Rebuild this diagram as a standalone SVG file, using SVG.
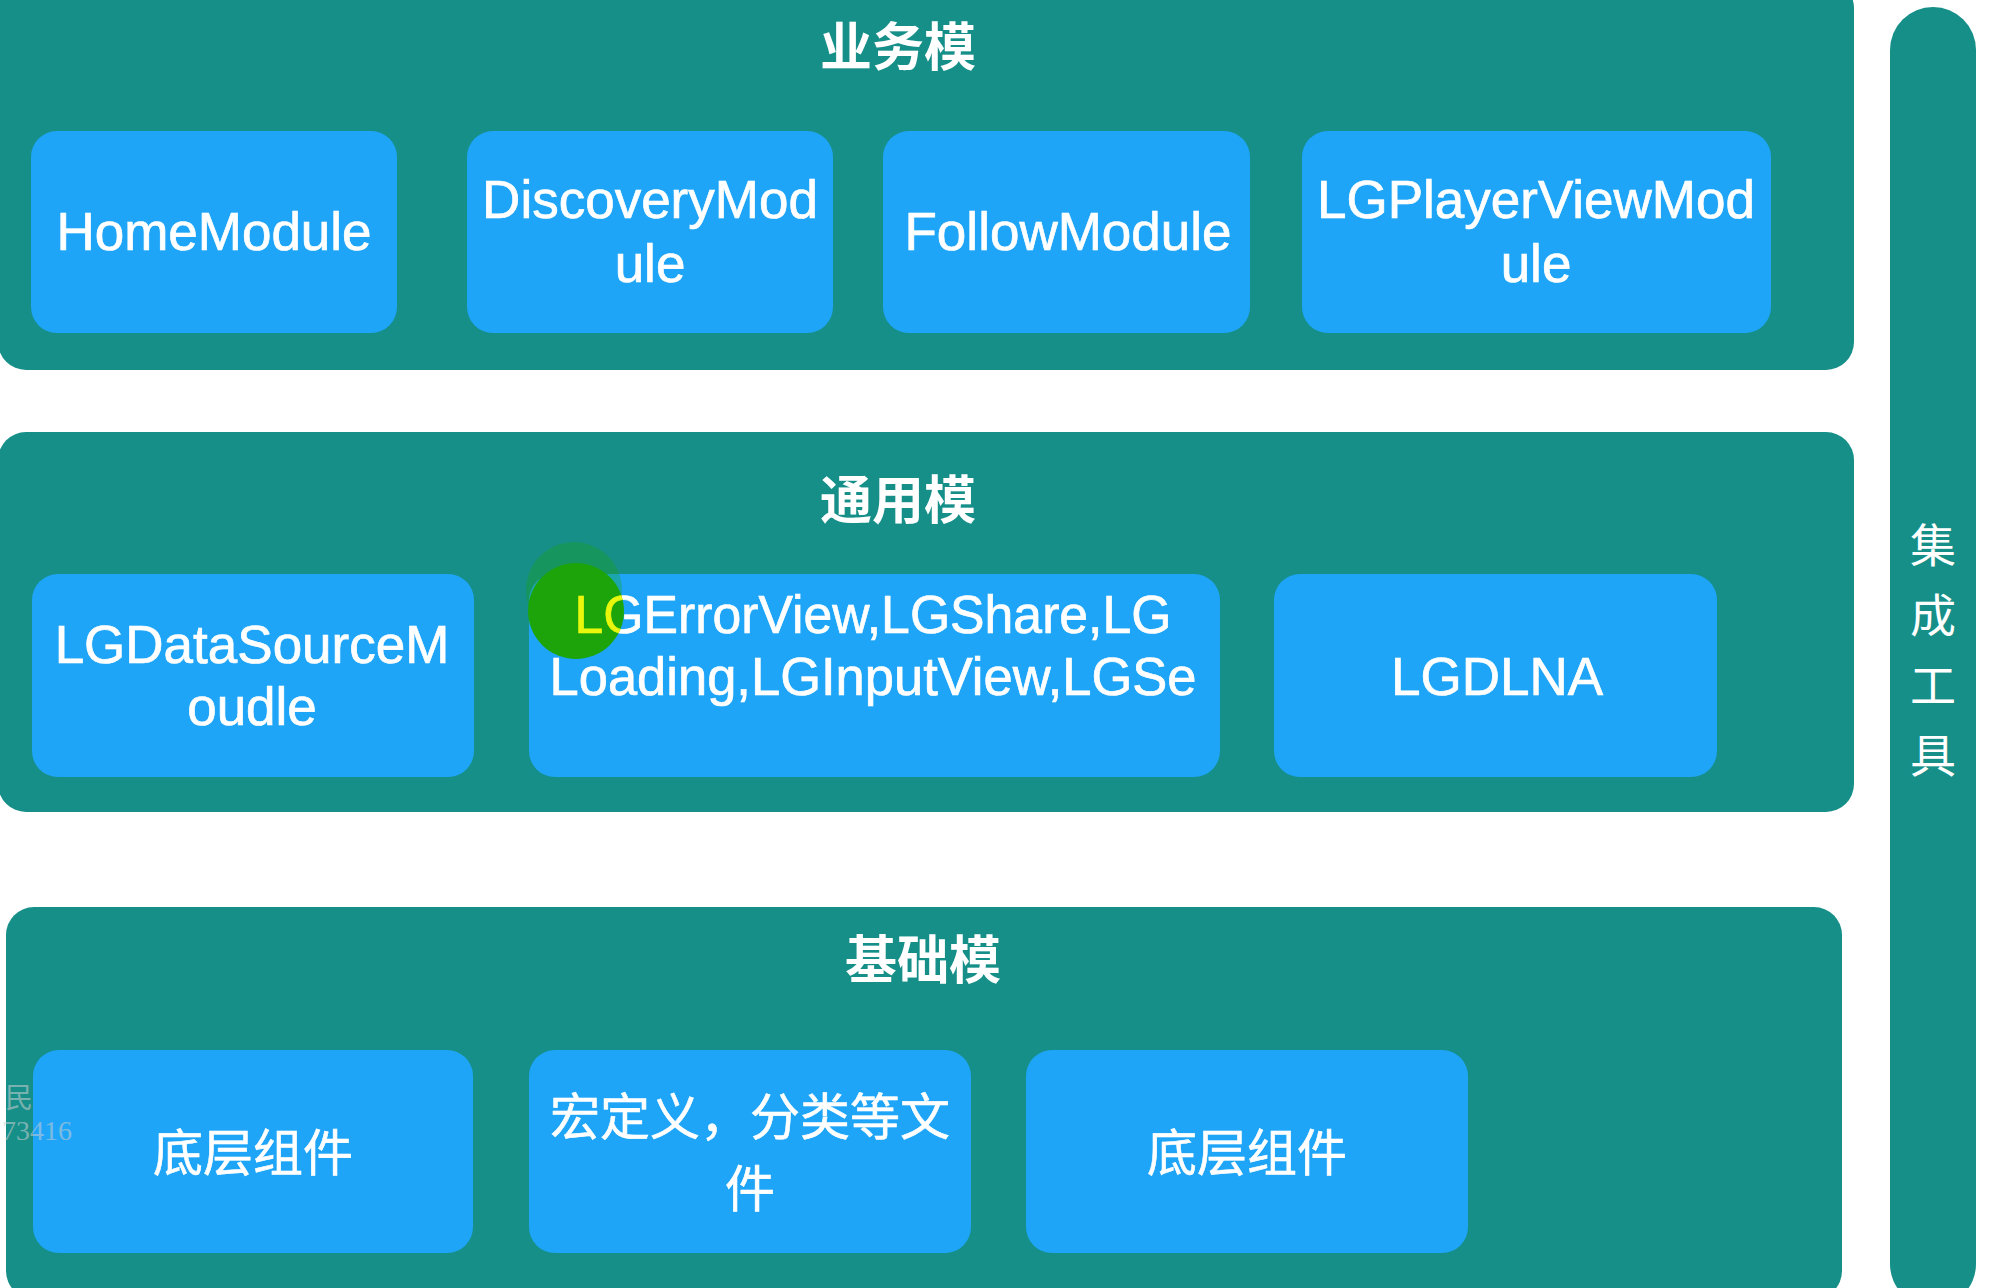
<svg xmlns="http://www.w3.org/2000/svg" width="1998" height="1288" viewBox="0 0 1998 1288">
  <defs>
    <style>
      .panel { fill: #168f89; }
      .box { fill: #1ea5f8; }
      .t { fill: #ffffff; stroke: #ffffff; stroke-width: 0.7px; font-family: "Liberation Sans", Arial, sans-serif; font-size: 53px; text-anchor: middle; }
      .cjk { fill: #ffffff; font-family: "Noto Sans CJK SC", "Noto Sans", sans-serif; text-anchor: middle; }
      .title { font-size: 52px; font-weight: bold; }
      .lbl { font-size: 50px; stroke: #ffffff; stroke-width: 0.6px; }
      .side { font-size: 46px; }
      .wm { fill: #c9cdd0; opacity: 0.55; font-family: "Liberation Serif", "Noto Sans CJK SC", serif; font-size: 28px; }
    </style>
    <clipPath id="spot">
      <circle cx="576" cy="611" r="48"/>
    </clipPath>
  </defs>
  <rect x="0" y="0" width="1998" height="1288" fill="#ffffff"/>

  <g id="integration-tools">
    <rect class="panel" x="1890" y="7" width="86" height="1300" rx="43"/>
    <text class="cjk side" x="1933" y="562">集</text>
    <text class="cjk side" x="1933" y="632">成</text>
    <text class="cjk side" x="1933" y="702">工</text>
    <text class="cjk side" x="1933" y="772">具</text>
  </g>

  <g id="business-layer">
    <rect class="panel" x="-2" y="-20" width="1856" height="390" rx="28"/>
    <text class="cjk title" x="898" y="66">业务模</text>
  </g>
  <g id="HomeModule">
    <rect class="box" x="31" y="131" width="366" height="202" rx="26"/>
    <text class="t" x="214" y="250">HomeModule</text>
  </g>
  <g id="DiscoveryModule">
    <rect class="box" x="467" y="131" width="366" height="202" rx="26"/>
    <text class="t" x="650" y="218">DiscoveryMod</text>
    <text class="t" x="650" y="282">ule</text>
  </g>
  <g id="FollowModule">
    <rect class="box" x="883" y="131" width="367" height="202" rx="26"/>
    <text class="t" x="1068" y="250">FollowModule</text>
  </g>
  <g id="LGPlayerViewModule">
    <rect class="box" x="1302" y="131" width="469" height="202" rx="26"/>
    <text class="t" x="1536" y="218">LGPlayerViewMod</text>
    <text class="t" x="1536" y="282">ule</text>
  </g>

  <g id="common-layer">
    <rect class="panel" x="-2" y="432" width="1856" height="380" rx="28"/>
    <text class="cjk title" x="898" y="519">通用模</text>
  </g>
  <g id="LGDataSourceMoudle">
    <rect class="box" x="32" y="574" width="442" height="203" rx="26"/>
    <text class="t" x="252" y="663">LGDataSourceM</text>
    <text class="t" x="252" y="725">oudle</text>
  </g>
  <g id="LGCommonViews">
    <rect class="box" x="529" y="574" width="691" height="203" rx="26"/>
    <text class="t" x="873" y="633" textLength="597" lengthAdjust="spacingAndGlyphs">LGErrorView,LGShare,LG</text>
    <text class="t" x="873" y="695" textLength="647" lengthAdjust="spacingAndGlyphs">Loading,LGInputView,LGSe</text>
  </g>
  <g id="LGDLNA">
    <rect class="box" x="1274" y="574" width="443" height="203" rx="26"/>
    <text class="t" x="1497" y="695">LGDLNA</text>
  </g>

  <g id="pointer-highlight">
    <circle cx="574" cy="590" r="48" fill="#1ca400" opacity="0.3"/>
    <circle cx="576" cy="611" r="48" fill="#1ca40a"/>
    <g clip-path="url(#spot)">
      <text class="t" x="873" y="633" textLength="597" lengthAdjust="spacingAndGlyphs" style="fill:#e8f70c;stroke:#e8f70c">LGErrorView,LGShare,LG</text>
    </g>
  </g>

  <g id="base-layer">
    <rect class="panel" x="6" y="907" width="1836" height="392" rx="28"/>
    <text class="cjk title" x="923" y="979">基础模</text>
  </g>
  <g id="BaseComponent1">
    <rect class="box" x="33" y="1050" width="440" height="203" rx="26"/>
    <text class="cjk lbl" x="253" y="1171">底层组件</text>
  </g>
  <g id="MacroCategoryFiles">
    <rect class="box" x="529" y="1050" width="442" height="203" rx="26"/>
    <text class="cjk lbl" x="750" y="1135">宏定义，分类等文</text>
    <text class="cjk lbl" x="750" y="1207">件</text>
  </g>
  <g id="BaseComponent2">
    <rect class="box" x="1026" y="1050" width="442" height="203" rx="26"/>
    <text class="cjk lbl" x="1247" y="1171">底层组件</text>
  </g>

  <g id="connectors"></g>

  <g id="watermark">
    <text class="wm" x="33" y="1108" text-anchor="end">民</text>
    <text class="wm" x="2" y="1140">73416</text>
  </g>
</svg>
